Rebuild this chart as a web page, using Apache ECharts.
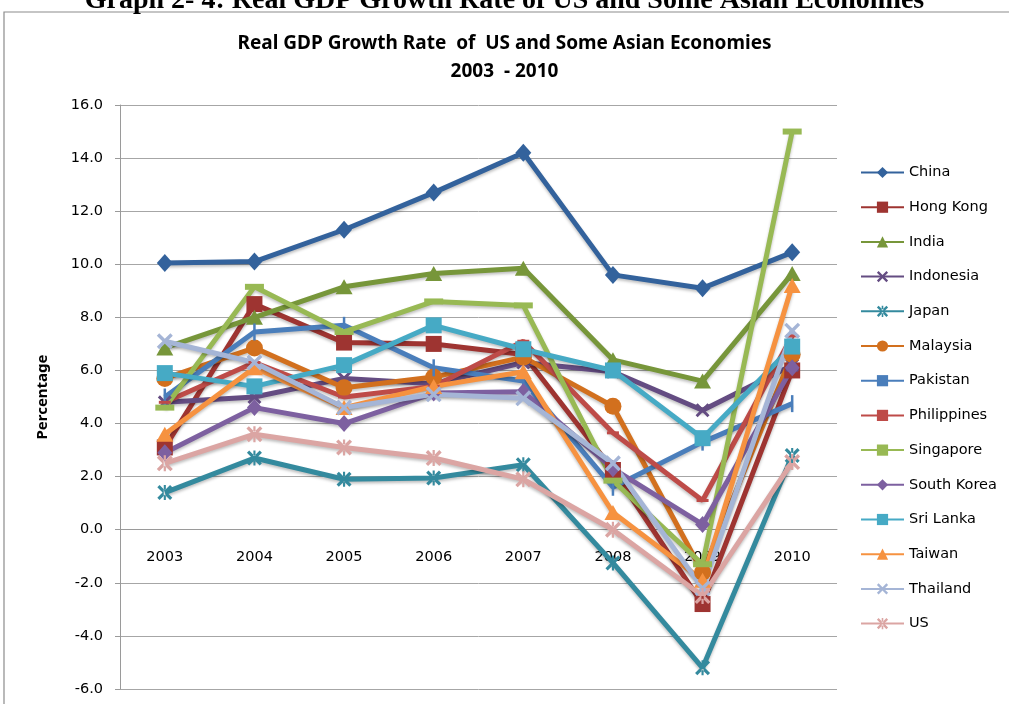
<!DOCTYPE html>
<html>
<head>
<meta charset="utf-8">
<script src="https://cdn.jsdelivr.net/npm/echarts@6/dist/echarts.min.js"></script>
<style>html,body{margin:0;padding:0;background:#fff;}#c{width:1009px;height:704px;}</style>
</head>
<body>
<div id="c"></div>
<script>
const years = ['2003','2004','2005','2006','2007','2008','2009','2010'];
const yTicks = [-6, 16, 2];
const china       = [10.05, 10.1, 11.3, 12.7, 14.2, 9.6, 9.1, 10.45];
const hongKong    = [3.1, 8.5, 7.05, 7.0, 6.6, 2.25, -2.8, 6.0];
const india       = [6.85, 8.0, 9.15, 9.65, 9.85, 6.4, 5.6, 9.65];
const indonesia   = [4.8, 5.0, 5.7, 5.5, 6.3, 5.95, 4.5, 6.2];
const japan       = [1.4, 2.7, 1.9, 1.95, 2.45, -1.25, -5.2, 2.8];
const malaysia    = [5.7, 6.85, 5.35, 5.75, 6.5, 4.65, -1.6, 6.6];
const pakistan    = [5.0, 7.45, 7.7, 6.1, 5.6, 1.6, 3.3, 4.75];
const philippines = [4.8, 6.3, 5.0, 5.4, 7.1, 3.65, 1.1, 7.3];
const singapore   = [4.6, 9.15, 7.45, 8.6, 8.45, 1.85, -1.3, 15.0];
const southKorea  = [2.9, 4.6, 4.0, 5.15, 5.2, 2.3, 0.2, 6.1];
const sriLanka    = [5.9, 5.4, 6.2, 7.7, 6.8, 6.0, 3.45, 6.9];
const taiwan      = [3.6, 6.1, 4.6, 5.4, 5.95, 0.65, -1.9, 9.2];
const thailand    = [7.1, 6.3, 4.6, 5.1, 4.95, 2.5, -2.2, 7.5];
const us          = [2.5, 3.6, 3.1, 2.7, 1.9, 0.0, -2.5, 2.55];
const names = ['China','Hong Kong','India','Indonesia','Japan','Malaysia','Pakistan','Philippines','Singapore','South Korea','Sri Lanka','Taiwan','Thailand','US'];
const values = [china, hongKong, india, indonesia, japan, malaysia, pakistan, philippines, singapore, southKorea, sriLanka, taiwan, thailand, us];

const colors = ['#33629C','#9E3431','#77963A','#644C82','#348A9E','#D2701E','#4A7EBB','#BE4B48','#98B954','#7D60A0','#46AAC5','#F69240','#A5B5D6','#DBA5A3'];
const X = 'path://M0,1.5 L1.5,0 L5,3.5 L8.5,0 L10,1.5 L6.5,5 L10,8.5 L8.5,10 L5,6.5 L1.5,10 L0,8.5 L3.5,5 Z';
const AST = 'path://M0,1.5 L1.5,0 L5,3.5 L8.5,0 L10,1.5 L6.5,5 L10,8.5 L8.5,10 L5,6.5 L1.5,10 L0,8.5 L3.5,5 Z M4.3,0 L4.3,10 L5.7,10 L5.7,0 Z';
const PLUS = 'rect';
const DASH = 'rect';
const BAR = 'rect';
const symbols = [
  ['diamond',[16,18]],['rect',[16,16]],['triangle',[17,15]],[X,[14,14]],[AST,[15,15]],
  ['circle',[17,17]],[PLUS,[2.5,17]],[DASH,[12,3]],[BAR,[19,6]],
  ['diamond',[15,17]],['rect',[16,16]],['triangle',[17,15]],[X,[16,16]],[AST,[16,16]]
];

const plotTop = 105, plotBottom = 15, H = 704;
const plotH = H - plotTop - plotBottom;
const zeroOffset = -(0 - yTicks[0]) / (yTicks[1] - yTicks[0]) * plotH;

const chart = echarts.init(document.getElementById('c'), null, {renderer:'canvas'});
const series = names.map((n,i)=>({
  name:n, type:'line', data:values[i],
  symbol:symbols[i][0], symbolSize:symbols[i][1], showSymbol:true,
  lineStyle:{width:5, color:colors[i], shadowColor:'rgba(0,0,0,0.25)', shadowBlur:3, shadowOffsetY:2},
  itemStyle:{color:colors[i]},
  emphasis:{disabled:true},
  animation:false
}));

chart.setOption({
  animation:false,
  color:colors,
  graphic:[
    {type:'rect', shape:{x:4, y:12, width:1100, height:800}, style:{fill:'none', stroke:'#8c8c8c', lineWidth:1.2}, z:-10},
    {type:'text', left:'center', y:-13, style:{text:'Graph 2- 4: Real GDP Growth Rate of US and Some Asian Economies', font:'bold 28px "Liberation Serif"', fill:'#000'}}
  ],
  title:{
    text:'Real GDP Growth Rate  of  US and Some Asian Economies\n2003  - 2010',
    left:'center', top:25,
    textStyle:{fontFamily:'"Noto Sans"', fontWeight:'bold', fontSize:19, lineHeight:28, color:'#000'}
  },
  legend:{
    orient:'vertical', left:860, top:165, padding:0,
    itemWidth:43, itemHeight:14, itemGap:19.7,
    textStyle:{fontFamily:'"DejaVu Sans"', fontSize:14.5, color:'#000'},
    data:names
  },
  grid:{left:120, right:172, top:plotTop, bottom:plotBottom, outerBoundsMode:'none'},
  xAxis:{
    type:'category', data:years, boundaryGap:true, position:'bottom', offset:zeroOffset,
    axisLine:{onZero:false, lineStyle:{color:'#9a9a9a', width:1}},
    axisTick:{show:false},
    axisLabel:{fontFamily:'"DejaVu Sans"', fontSize:14.5, color:'#000', margin:20}
  },
  yAxis:{
    type:'value', min:yTicks[0], max:yTicks[1], interval:yTicks[2],
    name:'Percentage', nameLocation:'middle', nameGap:70, nameRotate:90,
    nameTextStyle:{fontFamily:'"Noto Sans"', fontWeight:'bold', fontSize:15, color:'#000'},
    axisLine:{show:true, lineStyle:{color:'#9a9a9a'}},
    axisTick:{show:true, inside:false, length:5, lineStyle:{color:'#9a9a9a'}},
    axisLabel:{fontFamily:'"DejaVu Sans"', fontSize:14.5, color:'#000', margin:17, formatter:v=>v.toFixed(1)},
    splitLine:{show:true, lineStyle:{color:'#a6a6a6', width:1}}
  },
  series:series
});
</script>
</body>
</html>
